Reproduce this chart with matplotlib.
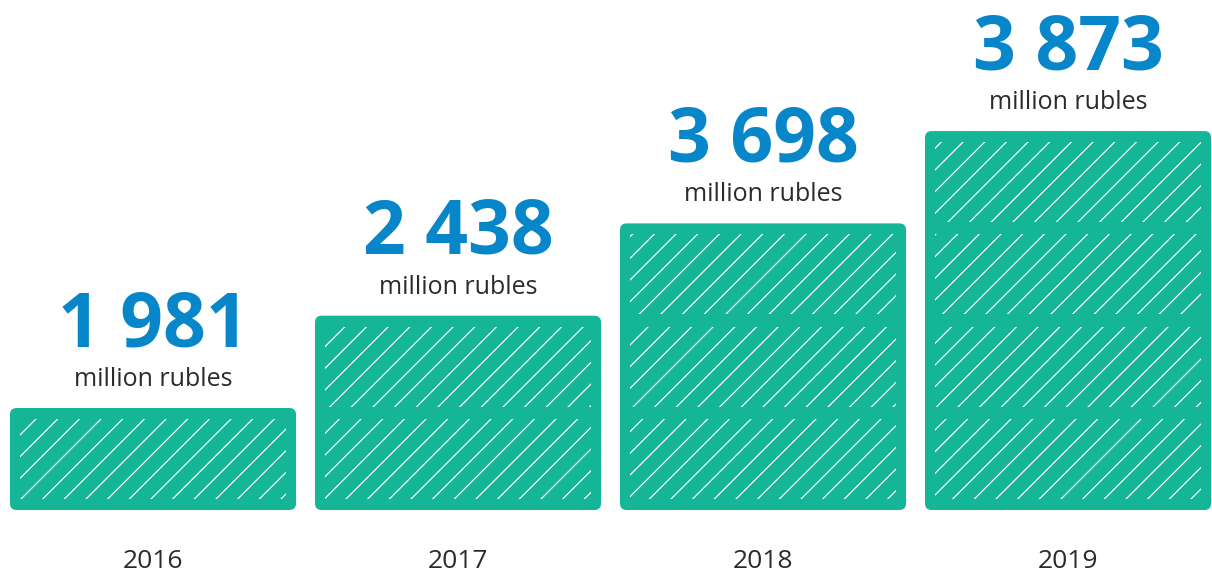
import matplotlib
matplotlib.use('Agg')
import matplotlib.pyplot as plt
from matplotlib.patches import FancyBboxPatch, Rectangle

# data
years  = ['2016', '2017', '2018', '2019']
values = [1981, 2438, 3698, 3873]   # million rubles
blocks = [1, 2, 3, 4]               # stacked tiles drawn per year
unit_label = 'million rubles'

GREEN = '#15b597'
BLUE  = '#0786c9'
DARK  = '#2b2b2b'

DPI = 130   # chosen so the '//' hatch spacing matches the original (~16 px)

def pt(px):
    return px * 72 / DPI

plt.rcParams['font.family'] = ['Open Sans', 'DejaVu Sans']
plt.rcParams['hatch.linewidth'] = pt(1.2)

fig = plt.figure(figsize=(1212 / DPI, 575 / DPI), dpi=DPI)
ax = fig.add_axes([0, 0, 1, 1])
ax.set_xlim(-0.5016, 3.472)
ax.set_ylim(-0.704, 5.525)
ax.axis('off')

bar_w = 0.938      # ~286 px
pad   = 0.12       # green margin around each hatched tile
tile  = 0.866      # hatched tile height
inset = 0.033      # ~10 px horizontal margin
aspect = 305 / 92.3

for i, (yr, val, n) in enumerate(zip(years, values, blocks)):
    top = n + 0.105
    bar = FancyBboxPatch((i - bar_w / 2, 0), bar_w, top,
                         boxstyle='round,pad=0,rounding_size=0.022',
                         mutation_aspect=aspect,
                         facecolor=GREEN, edgecolor='none')
    ax.add_patch(bar)
    for k in range(n):
        ax.add_patch(Rectangle((i - bar_w / 2 + inset, pad + k), bar_w - 2 * inset, tile,
                               facecolor='none', edgecolor='white', linewidth=0,
                               hatch='//'))

    ax.annotate(f'{val:,}'.replace(',', ' '), xy=(i, top), xytext=(0, pt(62)),
                textcoords='offset points', ha='center', va='baseline',
                fontsize=pt(75), fontweight='bold', color=BLUE)
    ax.annotate(unit_label, xy=(i, top), xytext=(0, pt(22)),
                textcoords='offset points', ha='center', va='baseline',
                fontsize=pt(25), color=DARK)
    ax.annotate(yr, xy=(i, 0), xytext=(0, pt(-51)),
                textcoords='offset points', ha='center', va='center',
                fontsize=pt(26.4), color=DARK)

plt.savefig('out.png', dpi=DPI)
plt.close()
